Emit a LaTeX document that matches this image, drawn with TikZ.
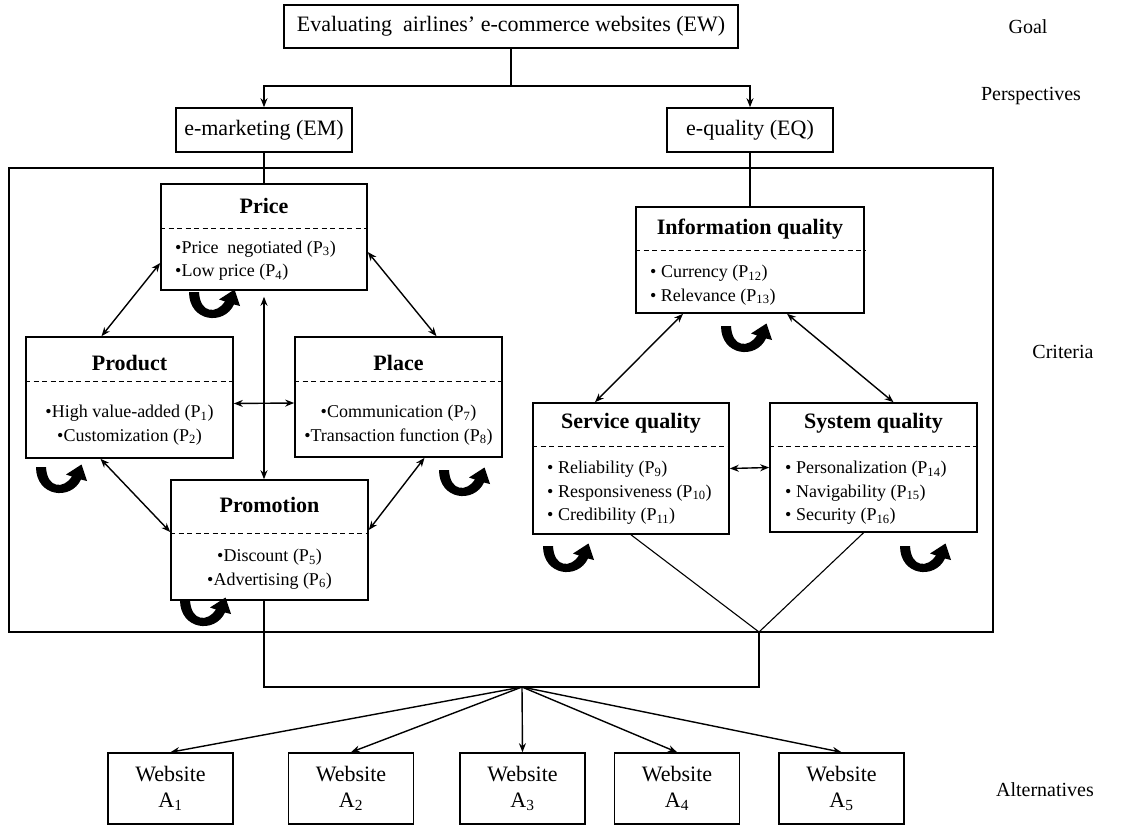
\documentclass[tikz,border=0pt]{standalone}
\usepackage{fontspec}
\setmainfont{Liberation Serif}
\usetikzlibrary{arrows.meta,positioning}

\tikzset{turnarrow/.pic={
  \fill (-1,0) .. controls (-1,30) and (34,34) .. (44,12.5) -- (50,14) -- (44.5,-2.5)
        -- (29,7.5) -- (35,9.5) .. controls (27,22) and (10,22) .. (9,0) -- cycle;
}}

\begin{document}
\begin{tikzpicture}[x=1pt, y=-1pt,
    font=\fontsize{22}{26}\selectfont,
    box/.style={rectangle, draw, line width=1.6pt, inner sep=0pt},
    head/.style={font=\fontsize{22}{26}\selectfont\bfseries, inner sep=0pt},
    item/.style={font=\fontsize{18}{23.5}\selectfont, inner sep=0pt},
    dashsep/.style={line width=1.3pt, dash pattern=on 5pt off 3.5pt},
    link/.style={line width=1.1pt},
    arr/.style={-{Stealth[length=9pt,width=7pt]}, line width=1.4pt},
    dbl/.style={{Stealth[length=9pt,width=7pt]}-{Stealth[length=9pt,width=7pt]}, line width=1.4pt},
    side/.style={font=\fontsize{20}{24}\selectfont}
]
    \useasboundingbox (0,0) rectangle (1126,826);

    % goal and perspectives
    \node[box, minimum width=454pt, minimum height=43pt] (goal) at (511,26.5) {Evaluating~ airlines’ e-commerce websites (EW)};
    \node[box, minimum width=176pt, minimum height=44pt] (em) at (264,130) {e-marketing (EM)};
    \node[box, minimum width=166pt, minimum height=44pt] (eq) at (750,130) {e-quality (EQ)};

    \coordinate (split) at (511,86);
    \draw[link] (goal.south) -- (split);
    \draw[arr] (split) -| (em.north);
    \draw[arr] (split) -| (eq.north);

    % criteria frame
    \node[box, minimum width=984pt, minimum height=464pt] (frame) at (501,400) {};

    % e-marketing mix
    \node[box, minimum width=206pt, minimum height=106pt] (price) at (264,237) {};
    \node[head] (priceT) at (264,206) {Price};
    \draw[dashsep] ([yshift=-45pt]price.north west) -- ([yshift=-45pt]price.north east);
    \node[item, align=left, anchor=west] (priceI) at (175,260.5) {\textbullet Price~ negotiated (P\textsubscript{3})\\\textbullet Low price (P\textsubscript{4})};

    \node[box, minimum width=207pt, minimum height=121pt] (product) at (129.5,397.5) {};
    \node[head] (productT) at (129.5,363) {Product};
    \draw[dashsep] ([yshift=-45pt]product.north west) -- ([yshift=-45pt]product.north east);
    \node[item, align=center] (productI) at (129.5,425) {\textbullet High value-added (P\textsubscript{1})\\\textbullet Customization (P\textsubscript{2})};

    \node[box, minimum width=207pt, minimum height=120pt] (place) at (398.5,397) {};
    \node[head] (placeT) at (398.5,363) {Place};
    \draw[dashsep] ([yshift=-45pt]place.north west) -- ([yshift=-45pt]place.north east);
    \node[item, align=center] (placeI) at (398.5,425) {\textbullet Communication (P\textsubscript{7})\\\textbullet Transaction function (P\textsubscript{8})};

    \node[box, minimum width=197pt, minimum height=120pt] (promo) at (269.5,540) {};
    \node[head] (promoT) at (269.5,505) {Promotion};
    \draw[dashsep] ([yshift=-54pt]promo.north west) -- ([yshift=-54pt]promo.north east);
    \node[item, align=center] (promoI) at (269.5,569) {\textbullet Discount (P\textsubscript{5})\\\textbullet Advertising (P\textsubscript{6})};

    % e-quality dimensions
    \node[box, minimum width=228pt, minimum height=106pt] (info) at (750,260) {};
    \node[head] (infoT) at (750,229) {Information quality};
    \draw[dashsep] ([yshift=-44pt]info.north west) -- ([yshift=-44pt]info.north east);
    \node[item, align=left, anchor=west] (infoI) at (650,285) {\textbullet{} Currency (P\textsubscript{12})\\\textbullet{} Relevance (P\textsubscript{13})};

    \node[box, minimum width=196pt, minimum height=131pt] (service) at (631,468.5) {};
    \node[head] (serviceT) at (631,423) {Service quality};
    \draw[dashsep] ([yshift=-44pt]service.north west) -- ([yshift=-44pt]service.north east);
    \node[item, align=left, anchor=west] (serviceI) at (547,493) {\textbullet{} Reliability (P\textsubscript{9})\\\textbullet{} Responsiveness (P\textsubscript{10})\\\textbullet{} Credibility (P\textsubscript{11})};

    \node[box, minimum width=207pt, minimum height=129pt] (system) at (873.5,467.5) {};
    \node[head] (systemT) at (873.5,423) {System quality};
    \draw[dashsep] ([yshift=-44pt]system.north west) -- ([yshift=-44pt]system.north east);
    \node[item, align=left, anchor=west] (systemI) at (785,493) {\textbullet{} Personalization (P\textsubscript{14})\\\textbullet{} Navigability (P\textsubscript{15})\\\textbullet{} Security (P\textsubscript{16})};

    \draw[link] (em.south) -- (price.north);
    \draw[link] (eq.south) -- (info.north);

    % relations inside the criteria
    \draw[dbl] ([yshift=-26pt]price.west) -- ([xshift=-28pt]product.north);
    \draw[dbl] ([yshift=-15pt]price.east) -- ([xshift=38pt]place.north);
    \draw[dbl] ([yshift=-6pt]price.south) -- (price.south |- promo.north);
    \draw[dbl] ([yshift=-6pt]product.east) -- ([yshift=-6pt]place.west);
    \draw[dbl] ([xshift=-29pt]product.south) -- ([yshift=8pt]promo.west);
    \draw[dbl] ([xshift=26pt]place.south) -- ([yshift=10pt]promo.east);
    \draw[dbl] ([xshift=-67pt]info.south) -- ([xshift=-36pt]service.north);
    \draw[dbl] ([xshift=37pt]info.south) -- ([xshift=20pt]system.north);
    \draw[dbl] (service.east) -- (system.west);

    % feedback loops
    \pic at (190,292) {turnarrow};
    \pic at (37,467) {turnarrow};
    \pic at (440,470) {turnarrow};
    \pic at (181,600) {turnarrow};
    \pic at (722,326) {turnarrow};
    \pic at (544,546) {turnarrow};
    \pic at (901,546) {turnarrow};

    % alternatives
    \node[box, minimum width=125pt, minimum height=71pt, align=center] (a1) at (170.5,788.5) {Website\\A\textsubscript{1}};
    \node[box, minimum width=125pt, minimum height=71pt, align=center] (a2) at (351,788.5) {Website\\A\textsubscript{2}};
    \node[box, minimum width=125pt, minimum height=71pt, align=center] (a3) at (522.5,788.5) {Website\\A\textsubscript{3}};
    \node[box, minimum width=125pt, minimum height=71pt, align=center] (a4) at (677,788.5) {Website\\A\textsubscript{4}};
    \node[box, minimum width=125pt, minimum height=71pt, align=center] (a5) at (841.5,788.5) {Website\\A\textsubscript{5}};

    \coordinate (join) at (759,632);
    \coordinate (fan) at (522,687);
    \draw[link] (service.south) -- (join);
    \draw[link] ([xshift=-10pt]system.south) -- (join);
    \draw[link] (promo.south -| price.south) -- (price.south |- fan) -- (fan -| join) -- (join);

    \draw[arr] (fan) -- (a1.north);
    \draw[arr] (fan) -- (a2.north);
    \draw[arr] (fan) -- (a3.north);
    \draw[arr] (fan) -- (a4.north);
    \draw[arr] (fan) -- (a5.north);

    % level labels
    \node[side] (lgoal) at (1028,27) {Goal};
    \node[side] (lpersp) at (1031,96) {Perspectives};
    \node[side] (lcrit) at (1063,352) {Criteria};
    \node[side] (lalt) at (1045,790) {Alternatives};
\end{tikzpicture}
\end{document}
